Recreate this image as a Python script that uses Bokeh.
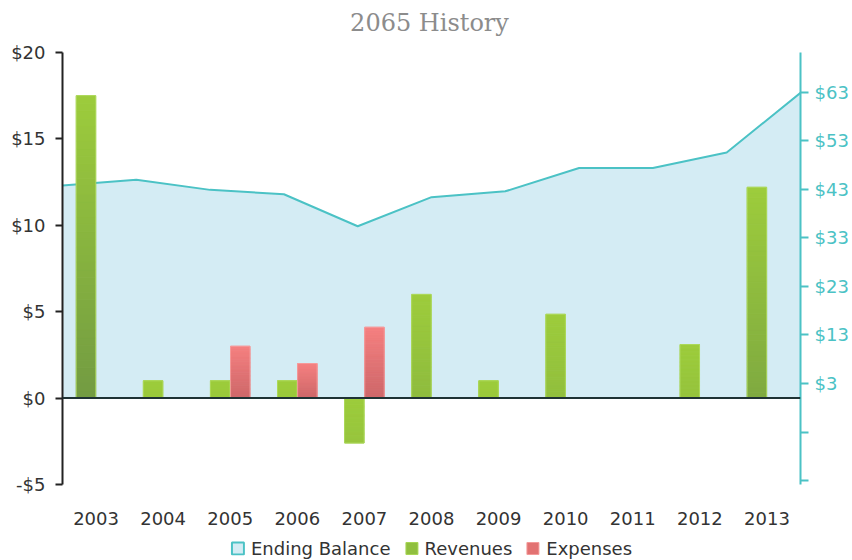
from bokeh.plotting import figure
from bokeh.layouts import column
from bokeh.models import (Range1d, LinearAxis, FixedTicker,
                          CustomJSTickFormatter, Span, Legend, LegendItem,
                          ColumnDataSource, Label)
from bokeh.embed import file_html
from bokeh.resources import INLINE

# ---------------- data ----------------
years = ['2003', '2004', '2005', '2006', '2007', '2008', '2009', '2010', '2011', '2012', '2013']
revenues = [17.5, 1.0, 1.0, 1.0, -2.6, 6.0, 1.0, 4.85, 0.0, 3.1, 12.2]
expenses = [0.0, 0.0, 3.0, 2.0, 4.1, 0.0, 0.0, 0.0, 0.0, 0.0, 0.0]
ending_balance = [43.8, 45.0, 42.9, 42.0, 35.4, 41.4, 42.6, 47.4, 47.4, 50.6, 62.9]
left_ticks = [-5, 0, 5, 10, 15, 20]
right_ticks = [-17, -7, 3, 13, 23, 33, 43, 53, 63]
title_text = "2065 History"
legend_labels = ["Ending Balance", "Revenues", "Expenses"]

# ---------------- style ----------------
FONT = "DejaVu Sans"
TEAL = "#4bc2c5"
AREA = "#d4ecf4"
GREEN_TOP = (157, 204, 60)
GREEN_DARK = (114, 155, 66)
RED_TOP = (245, 128, 128)
RED_BOT = (205, 103, 105)
N_SLICES = 40
W = 0.29
DODGE = 0.15

n = len(years)
centers = [i + 0.5 for i in range(n)]


def hexc(c):
    return "#%02x%02x%02x" % tuple(int(round(v)) for v in c)


def lerp(c1, c2, t):
    return tuple(a + (b - a) * t for a, b in zip(c1, c2))


def gradient_slices(vals, offset, top_c, bot_fn):
    xs, tops, bots, cols = [], [], [], []
    for cx, v in zip(centers, vals):
        if v == 0:
            continue
        lo, hi = min(0.0, v), max(0.0, v)
        bot_c = bot_fn(v)
        for k in range(N_SLICES):
            b = lo + (hi - lo) * k / N_SLICES
            t = lo + (hi - lo) * (k + 1) / N_SLICES
            frac_from_top = 1 - (k + 0.5) / N_SLICES
            xs.append(cx + offset)
            bots.append(b)
            tops.append(t)
            cols.append(hexc(lerp(top_c, bot_c, frac_from_top)))
    return ColumnDataSource(dict(x=xs, top=tops, bottom=bots, color=cols))


def outline_src(vals, offset):
    return ColumnDataSource(dict(x=[c + offset for c, v in zip(centers, vals) if v != 0],
                                 v=[v for v in vals if v != 0]))


def strip(height):
    f = figure(width=852, height=height, x_range=Range1d(0, 1), y_range=Range1d(0, 1),
               output_backend="svg", toolbar_location=None,
               x_axis_type=None, y_axis_type=None,
               min_border_left=0, min_border_right=0, min_border_top=0,
               min_border_bottom=0)
    f.outline_line_color = None
    f.xgrid.visible = False
    f.ygrid.visible = False
    return f


# ---------------- title strip ----------------
# (the column aligns this strip's frame with the chart frame, which starts 62px in)
tf = strip(40)
tf.add_layout(Label(x=367, y=18, x_units="screen", y_units="screen",
                    text=title_text, text_align="center", text_baseline="middle",
                    text_font="DejaVu Serif", text_font_size="24px",
                    text_color="#8c8c8c"))

# ---------------- main chart ----------------
p = figure(width=852, height=496, x_range=Range1d(0, n),
           y_range=Range1d(-5, 20), output_backend="svg", toolbar_location=None,
           min_border_left=62, min_border_right=52, min_border_top=12,
           min_border_bottom=52)
p.outline_line_color = None
p.xgrid.visible = False
p.ygrid.visible = False
p.background_fill_color = "white"

p.extra_x_ranges = {"bal": Range1d(0, n - 1)}
p.extra_y_ranges = {"right": Range1d(-17.8, 71.2)}

# ---- ending balance area ----
bal_src = ColumnDataSource(dict(i=list(range(n)), bal=ending_balance,
                                zero=[0] * n))
p.varea(x="i", y1="zero", y2="bal", source=bal_src, fill_color=AREA,
        x_range_name="bal", y_range_name="right")
p.line(x="i", y="bal", source=bal_src, line_color=TEAL, line_width=2,
       x_range_name="bal", y_range_name="right")

# ---- bars with gradient ----
rev_src = gradient_slices(
    revenues, -DODGE, GREEN_TOP,
    lambda v: lerp(GREEN_TOP, GREEN_DARK, min(1.0, abs(v) / 17.5)))
exp_src = gradient_slices(expenses, DODGE, RED_TOP, lambda v: RED_BOT)

p.vbar(x="x", top="top", bottom="bottom", width=W, source=rev_src,
       fill_color="color", line_color="color", line_width=1)
p.vbar(x="x", top="top", bottom="bottom", width=W, source=exp_src,
       fill_color="color", line_color="color", line_width=1)

p.vbar(x="x", top="v", bottom=0, width=W, source=outline_src(revenues, -DODGE),
       fill_color=None, line_color="#b0dc60", line_width=1, line_alpha=0.8)
p.vbar(x="x", top="v", bottom=0, width=W, source=outline_src(expenses, DODGE),
       fill_color=None, line_color="#f7a0a0", line_width=1, line_alpha=0.8)

# zero line
p.add_layout(Span(location=0, dimension="width", line_color="#1e3234",
                  line_width=2))

# ---- axes ----
ya = p.yaxis[0]
ya.ticker = FixedTicker(ticks=left_ticks)
ya.formatter = CustomJSTickFormatter(code="return (tick < 0 ? '-$' : '$') + Math.abs(tick);")
ya.axis_line_color = "#222222"
ya.axis_line_width = 2
ya.major_tick_line_color = "#222222"
ya.major_tick_line_width = 2
ya.major_tick_out = 7
ya.major_tick_in = 0
ya.minor_tick_line_color = None
ya.major_label_standoff = 10
ya.major_label_text_font = FONT
ya.major_label_text_font_size = "18px"
ya.major_label_text_color = "#333333"

ra = LinearAxis(y_range_name="right")
ra.ticker = FixedTicker(ticks=right_ticks)
ra.formatter = CustomJSTickFormatter(code="return tick < 0 ? '' : '$' + tick;")
ra.axis_line_color = TEAL
ra.axis_line_width = 2
ra.major_tick_line_color = TEAL
ra.major_tick_line_width = 2
ra.major_tick_out = 8
ra.major_tick_in = 0
ra.minor_tick_line_color = None
ra.major_label_standoff = 6
ra.major_label_text_font = FONT
ra.major_label_text_font_size = "18px"
ra.major_label_text_color = TEAL
p.add_layout(ra, "right")

xa = p.xaxis[0]
xa.ticker = FixedTicker(ticks=centers)
xa.major_label_overrides = {c: y for c, y in zip(centers, years)}
xa.axis_line_color = None
xa.major_tick_line_color = None
xa.major_tick_out = 0
xa.major_tick_in = 0
xa.minor_tick_line_color = None
xa.minor_tick_out = 0
xa.major_label_standoff = 27
xa.major_label_text_font = FONT
xa.major_label_text_font_size = "18px"
xa.major_label_text_color = "#333333"

# ---------------- legend strip ----------------
lf = strip(24)
# legend swatches: single off-screen dummy entries so the legend draws them
r1 = lf.quad(left=[5], right=[6], top=[6], bottom=[5], fill_color=AREA,
             line_color=TEAL, line_width=2)
r2 = lf.quad(left=[5], right=[6], top=[6], bottom=[5], fill_color="#90bf3f",
             line_color="#a8d655", line_width=1)
r3 = lf.quad(left=[5], right=[6], top=[6], bottom=[5], fill_color="#e27272",
             line_color="#f39a9a", line_width=1)
legend = Legend(items=[LegendItem(label=legend_labels[0], renderers=[r1]),
                       LegendItem(label=legend_labels[1], renderers=[r2]),
                       LegendItem(label=legend_labels[2], renderers=[r3])],
                orientation="horizontal", location="center",
                glyph_width=15, glyph_height=15, label_standoff=6, spacing=13,
                padding=0, margin=0, border_line_color=None,
                background_fill_alpha=0, label_text_font=FONT,
                label_text_font_size="18px", label_text_color="#333333",
                label_height=18)
lf.add_layout(legend, "center")

layout = column(tf, p, lf, spacing=0)

open("out.html", "w").write(file_html(layout, INLINE))
